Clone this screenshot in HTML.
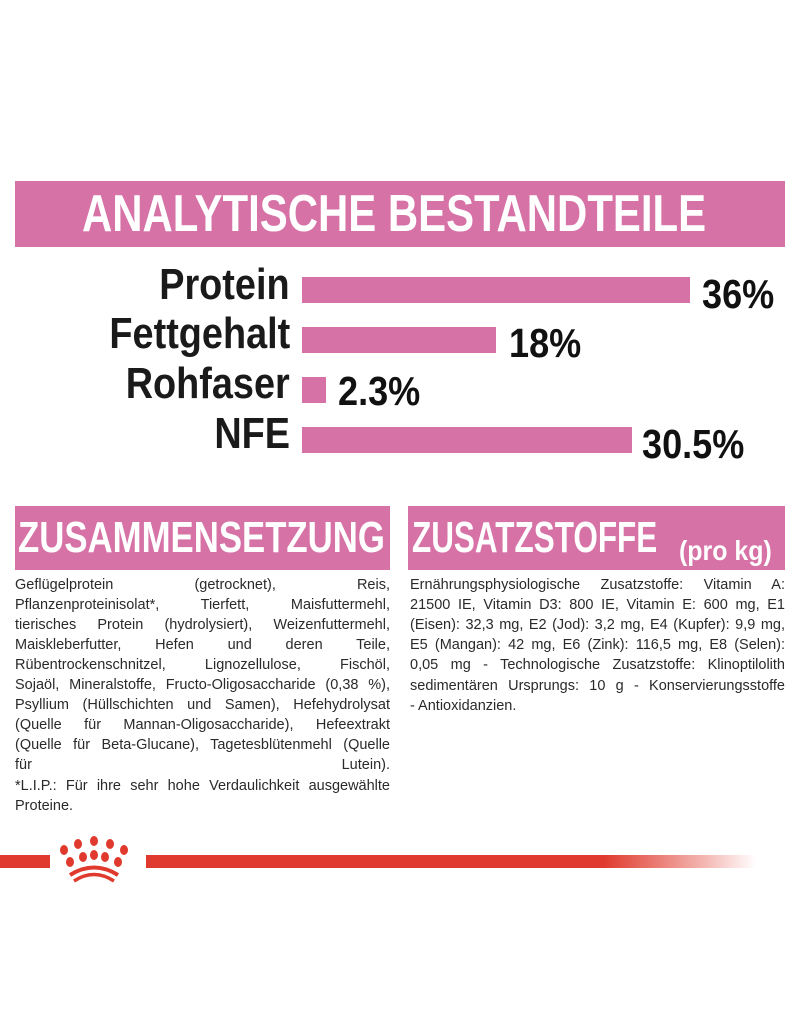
<!DOCTYPE html>
<html><head><meta charset="utf-8"><style>
*{margin:0;padding:0;box-sizing:border-box}
body{width:800px;height:1012px;background:#fff;position:relative;overflow:hidden;font-family:"Liberation Sans",sans-serif}
.a{position:absolute}
.pink{background:#d672a6}
.lbl{position:absolute;right:510px;font-weight:bold;font-size:44px;color:#1a1a1a;line-height:44px;white-space:nowrap;transform:scaleX(0.86);transform-origin:right center}
.pct{position:absolute;font-weight:bold;font-size:41px;color:#111;line-height:44px;white-space:nowrap;transform:scaleX(0.88);transform-origin:left center}
.ln{position:absolute;height:20px;line-height:20px;font-size:14.5px;color:#2a2a2a;text-align:justify;text-align-last:justify;white-space:nowrap;overflow:visible}
.ln span{display:block;white-space:normal}
.l{text-align-last:left}
.h{position:absolute;color:#fff;font-weight:bold;white-space:nowrap;transform-origin:left center}
</style></head><body>
<div class="a pink" style="left:15px;top:181px;width:770px;height:66px"></div>
<div class="h" style="left:82px;top:181px;line-height:66px;font-size:52px;transform:scaleX(0.806)">ANALYTISCHE BESTANDTEILE</div>

<div class="lbl" style="top:263px">Protein</div>
<div class="lbl" style="top:312px">Fettgehalt</div>
<div class="lbl" style="top:362px">Rohfaser</div>
<div class="lbl" style="top:412px">NFE</div>
<div class="a pink" style="left:302px;top:277px;width:388px;height:26px"></div>
<div class="a pink" style="left:302px;top:327px;width:194px;height:26px"></div>
<div class="a pink" style="left:302px;top:377px;width:24px;height:26px"></div>
<div class="a pink" style="left:302px;top:427px;width:330px;height:26px"></div>
<div class="pct" style="left:702px;top:272px">36%</div>
<div class="pct" style="left:509px;top:321px">18%</div>
<div class="pct" style="left:338px;top:369px">2.3%</div>
<div class="pct" style="left:642px;top:422px">30.5%</div>

<div class="a pink" style="left:15px;top:506px;width:375px;height:64px"></div>
<div class="h" style="left:18px;top:506px;line-height:64px;font-size:44px;transform:scaleX(0.79)">ZUSAMMENSETZUNG</div>
<div class="a pink" style="left:408px;top:506px;width:377px;height:64px"></div>
<div class="h" style="left:412px;top:506px;line-height:64px;font-size:44px;transform:scaleX(0.715)">ZUSATZSTOFFE</div>
<div class="h" style="left:679px;top:536px;line-height:30px;font-size:28px;transform:scaleX(0.89)">(pro kg)</div>

<div class="ln" style="left:15px;width:375px;top:575px"><span>Geflügelprotein (getrocknet), Reis,</span></div>
<div class="ln" style="left:15px;width:375px;top:595px"><span>Pflanzenproteinisolat*, Tierfett, Maisfuttermehl,</span></div>
<div class="ln" style="left:15px;width:375px;top:615px"><span>tierisches Protein (hydrolysiert), Weizenfuttermehl,</span></div>
<div class="ln" style="left:15px;width:375px;top:635px"><span>Maiskleberfutter, Hefen und deren Teile,</span></div>
<div class="ln" style="left:15px;width:375px;top:655px"><span>Rübentrockenschnitzel, Lignozellulose, Fischöl,</span></div>
<div class="ln" style="left:15px;width:375px;top:675px"><span>Sojaöl, Mineralstoffe, Fructo-Oligosaccharide (0,38 %),</span></div>
<div class="ln" style="left:15px;width:375px;top:695px"><span>Psyllium (Hüllschichten und Samen), Hefehydrolysat</span></div>
<div class="ln" style="left:15px;width:375px;top:715px"><span>(Quelle für Mannan-Oligosaccharide), Hefeextrakt</span></div>
<div class="ln" style="left:15px;width:375px;top:735px"><span>(Quelle für Beta-Glucane), Tagetesblütenmehl (Quelle</span></div>
<div class="ln" style="left:15px;width:375px;top:755px"><span>für Lutein).</span></div>
<div class="ln" style="left:15px;width:375px;top:776px"><span>*L.I.P.: Für ihre sehr hohe Verdaulichkeit ausgewählte</span></div>
<div class="ln l" style="left:15px;width:375px;top:796px"><span>Proteine.</span></div>

<div class="ln" style="left:410px;width:375px;top:575px"><span>Ernährungsphysiologische Zusatzstoffe: Vitamin A:</span></div>
<div class="ln" style="left:410px;width:375px;top:595px"><span>21500 IE, Vitamin D3: 800 IE, Vitamin E: 600 mg, E1</span></div>
<div class="ln" style="left:410px;width:375px;top:615px"><span>(Eisen): 32,3 mg, E2 (Jod): 3,2 mg, E4 (Kupfer): 9,9 mg,</span></div>
<div class="ln" style="left:410px;width:375px;top:635px"><span>E5 (Mangan): 42 mg, E6 (Zink): 116,5 mg, E8 (Selen):</span></div>
<div class="ln" style="left:410px;width:375px;top:655px"><span>0,05 mg - Technologische Zusatzstoffe: Klinoptilolith</span></div>
<div class="ln" style="left:410px;width:375px;top:676px"><span>sedimentären Ursprungs: 10 g - Konservierungsstoffe</span></div>
<div class="ln l" style="left:410px;width:375px;top:696px"><span>- Antioxidanzien.</span></div>

<div class="a" style="left:0;top:855px;width:50px;height:13px;background:#e03a2e"></div>
<div class="a" style="left:146px;top:855px;width:610px;height:13px;background:linear-gradient(to right,#e03a2e 0%,#e03a2e 75%,rgba(224,58,46,0.35) 92%,rgba(224,58,46,0) 100%)"></div>
<svg class="a" style="left:50px;top:830px" width="96" height="60" viewBox="0 0 96 60">
<g fill="#e03a2e">
<ellipse cx="14" cy="20" rx="4" ry="5"/><ellipse cx="28" cy="14" rx="4" ry="5"/><ellipse cx="44" cy="11" rx="4" ry="5"/><ellipse cx="60" cy="14" rx="4" ry="5"/><ellipse cx="74" cy="20" rx="4" ry="5"/>
<ellipse cx="20" cy="32" rx="4" ry="5"/><ellipse cx="33" cy="27" rx="4" ry="5"/><ellipse cx="44" cy="25" rx="4" ry="5"/><ellipse cx="55" cy="27" rx="4" ry="5"/><ellipse cx="68" cy="32" rx="4" ry="5"/>
</g>
<path d="M20 45 Q44 30 68 45" stroke="#e03a2e" stroke-width="4" fill="none"/>
<path d="M24 51 Q44 38 64 51" stroke="#e03a2e" stroke-width="3.5" fill="none"/>
</svg>
</body></html>
